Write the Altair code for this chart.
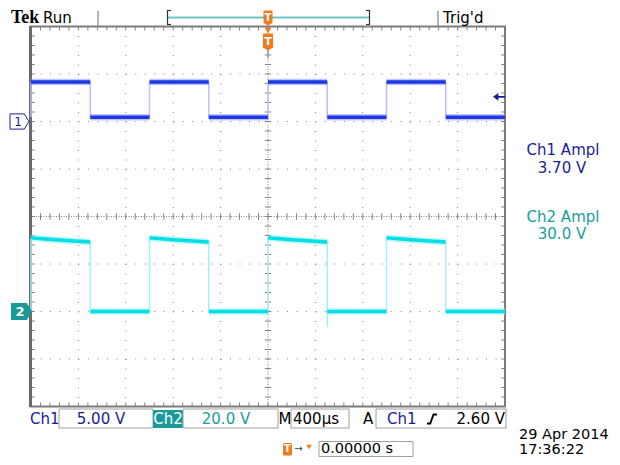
import altair as alt
import numpy as np
import pandas as pd

OFF = 8                      # page margin of the html page
FONT = "DejaVu Sans"

# ---------------- acquisition values ----------------
T_LEFT, T_RIGHT = -2000, 2000          # µs, 400 µs/div, 10 div
CH1_BOUNDS = [-2000, -1500, -1000, -500, 0, 500, 1000, 1500, 2000]   # µs
CH1_LEVEL_V = [4.15, 0.45, 4.15, 0.45, 4.15, 0.45, 4.15, 0.45]       # V per segment
CH2_HIGH_START = [-2000, -1000, 0, 1000]                              # µs
CH2_HIGH_DT = [0, 100, 200, 300, 400, 500]                            # µs into high phase
CH2_HIGH_V = [31.0, 30.6, 30.25, 29.9, 29.6, 29.3]                    # V (droop)
CH2_LOW_START = [-1500, -500, 500, 1500]
CH2_LOW_DT = [0, 500]
CH2_LOW_V = [0.0, 0.0, 0.0, 0.0]
CH2_SPIKE_T = [500]
CH2_SPIKE_V = [-6.5]
TRIG_LEVEL_V = [2.60]
TRIG_T = [0]

# ---------------- readout texts ----------------
TOP_TEXT = ["Tek", "Run", "Trig'd"]
MEAS_TEXT = ["Ch1 Ampl", "3.70 V", "Ch2 Ampl", "30.0 V"]
BOTTOM_TEXT = ["Ch1", "5.00 V", "Ch2", "20.0 V", "M", "400µs", "A", "Ch1", "2.60 V", "0.00000 s"]
DATE_TEXT = ["29 Apr 2014", "17:36:22"]

# ---------------- colours ----------------
BLUE_TXT = "#1c1c98"
TEAL_TXT = "#17a09c"
TEAL_BG = "#179a98"
ORANGE = "#f07a1e"
GRID = "#858585"
BORDER = "#7c7c7c"

# ---------------- scales (screen graticule) ----------------
X_L, X_R = 31 - OFF, 505 - OFF
Y_TOP, Y_BOT = 26.5 - OFF, 406.5 - OFF
XS = alt.Scale(domain=[T_LEFT, T_RIGHT], range=[X_L, X_R], nice=False, zero=False)
Y1 = alt.Scale(domain=[-30, 10], range=[Y_BOT, Y_TOP], nice=False, zero=False)    # 5 V/div, ground +2 div
Y2 = alt.Scale(domain=[-40, 120], range=[Y_BOT, Y_TOP], nice=False, zero=False)   # 20 V/div, ground -2 div
YD = alt.Scale(domain=[-4, 4], range=[Y_BOT, Y_TOP], nice=False, zero=False)      # divisions

ONE = alt.Data(values=[{"k": 1}])


def P(v):
    return v - OFF


def text(s, x, y, color="black", size=15, align="left", weight="normal", font=FONT):
    return alt.Chart(alt.Data(values=[{"s": s}])).mark_text(
        align=align, baseline="middle", font=font, fontSize=size,
        fontWeight=weight, color=color
    ).encode(x=alt.value(P(x)), y=alt.value(P(y)), text="s:N")


def rect(x1, y1, x2, y2, fill=None, stroke=None, sw=1, r=0):
    kw = {}
    if fill:
        kw["fill"] = fill
    else:
        kw["fill"] = "white"
        kw["fillOpacity"] = 0
    if stroke:
        kw["stroke"] = stroke
        kw["strokeWidth"] = sw
    if r:
        kw["cornerRadius"] = r
    return alt.Chart(ONE).mark_rect(**kw).encode(
        x=alt.value(P(x1)), x2=alt.value(P(x2)), y=alt.value(P(y1)), y2=alt.value(P(y2)))


def seg(x1, y1, x2, y2, color, sw=1):
    return alt.Chart(ONE).mark_rule(color=color, strokeWidth=sw).encode(
        x=alt.value(P(x1)), x2=alt.value(P(x2)), y=alt.value(P(y1)), y2=alt.value(P(y2)))


layers = []

# ---------------- graticule ----------------
vg = pd.DataFrame({"t": [t for t in range(-1600, 2000, 400) if t != 0]})
layers.append(alt.Chart(vg).mark_rule(color=GRID, strokeWidth=1, strokeDash=[1, 8.5]).encode(
    x=alt.X("t:Q", scale=XS, axis=None), y=alt.value(Y_TOP), y2=alt.value(Y_BOT)))
hg = pd.DataFrame({"d": [-3, -2, -1, 1, 2, 3]})
layers.append(alt.Chart(hg).mark_rule(color=GRID, strokeWidth=1, strokeDash=[1, 8.48]).encode(
    y=alt.Y("d:Q", scale=YD, axis=None), x=alt.value(X_L), x2=alt.value(X_R)))
# centre lines
layers.append(alt.Chart(pd.DataFrame({"t": [0]})).mark_rule(color=GRID, strokeDash=[1, 1.5]).encode(
    x=alt.X("t:Q", scale=XS, axis=None), y=alt.value(Y_TOP), y2=alt.value(Y_BOT)))
layers.append(alt.Chart(pd.DataFrame({"d": [0]})).mark_rule(color=GRID, strokeDash=[1, 1.5]).encode(
    y=alt.Y("d:Q", scale=YD, axis=None), x=alt.value(X_L), x2=alt.value(X_R)))
# minor ticks on centre lines and borders
tt = pd.DataFrame({"t": np.arange(T_LEFT, T_RIGHT + 1, 80), "a": -0.07, "b": 0.07})
layers.append(alt.Chart(tt).mark_rule(color=GRID).encode(
    x=alt.X("t:Q", scale=XS, axis=None), y=alt.Y("a:Q", scale=YD, axis=None), y2="b:Q"))
td = pd.DataFrame({"d": np.round(np.arange(-4, 4.01, 0.2), 2), "a": -27, "b": 27})
layers.append(alt.Chart(td).mark_rule(color=GRID).encode(
    y=alt.Y("d:Q", scale=YD, axis=None), x=alt.X("a:Q", scale=XS, axis=None), x2="b:Q"))
tb = pd.DataFrame({"t": np.arange(T_LEFT, T_RIGHT + 1, 80)})
layers.append(alt.Chart(tb).mark_rule(color=GRID).encode(
    x=alt.X("t:Q", scale=XS, axis=None), y=alt.value(Y_TOP), y2=alt.value(Y_TOP + 4)))
layers.append(alt.Chart(tb).mark_rule(color=GRID).encode(
    x=alt.X("t:Q", scale=XS, axis=None), y=alt.value(Y_BOT - 4), y2=alt.value(Y_BOT)))
tl = pd.DataFrame({"d": np.round(np.arange(-4, 4.01, 0.2), 2)})
layers.append(alt.Chart(tl).mark_rule(color=GRID).encode(
    y=alt.Y("d:Q", scale=YD, axis=None), x=alt.value(X_L), x2=alt.value(X_L + 4)))
layers.append(alt.Chart(tl).mark_rule(color=GRID).encode(
    y=alt.Y("d:Q", scale=YD, axis=None), x=alt.value(X_R - 4), x2=alt.value(X_R)))
# border
layers.append(rect(31, 26.5, 505, 406.5, stroke=BORDER, sw=2))
layers.append(seg(30.5, 26, 30.5, 407, "#6a6a6a", 3))

# ---------------- Ch1 trace ----------------
ch1 = pd.DataFrame({"t0": CH1_BOUNDS[:-1], "t1": CH1_BOUNDS[1:], "v": CH1_LEVEL_V})
ch1e = pd.DataFrame({"t": CH1_BOUNDS[:-1], "a": [CH1_LEVEL_V[1]] + CH1_LEVEL_V[:-1], "b": CH1_LEVEL_V})
layers.append(alt.Chart(ch1e).mark_rule(color="#b9c1f6", strokeWidth=1.5).encode(
    x=alt.X("t:Q", scale=XS, axis=None), y=alt.Y("a:Q", scale=Y1, axis=None), y2="b:Q"))
layers.append(alt.Chart(ch1).mark_rule(color="#8d99f2", strokeWidth=6.5, opacity=0.55, strokeCap="butt").encode(
    x=alt.X("t0:Q", scale=XS, axis=None), x2="t1:Q", y=alt.Y("v:Q", scale=Y1, axis=None)))
layers.append(alt.Chart(ch1).mark_rule(color="#1e36e4", strokeWidth=3.5, strokeCap="butt").encode(
    x=alt.X("t0:Q", scale=XS, axis=None), x2="t1:Q", y=alt.Y("v:Q", scale=Y1, axis=None)))

# ---------------- Ch2 trace ----------------
rows = []
for i, s in enumerate(CH2_HIGH_START):
    for dt, v in zip(CH2_HIGH_DT, CH2_HIGH_V):
        rows.append({"seg": f"h{i}", "t": s + dt, "v": v})
for i, s in enumerate(CH2_LOW_START):
    for dt in CH2_LOW_DT:
        rows.append({"seg": f"l{i}", "t": s + dt, "v": CH2_LOW_V[i]})
ch2 = pd.DataFrame(rows)
edges = []
for s in CH2_HIGH_START:
    edges.append({"t": s, "a": CH2_LOW_V[0], "b": CH2_HIGH_V[0]})
for i, s in enumerate(CH2_LOW_START):
    edges.append({"t": s, "a": CH2_HIGH_V[-1], "b": CH2_LOW_V[i]})
for t, v in zip(CH2_SPIKE_T, CH2_SPIKE_V):
    edges.append({"t": t, "a": 0.0, "b": v})
ch2e = pd.DataFrame(edges)
layers.append(alt.Chart(ch2e).mark_rule(color="#a6f1f6", strokeWidth=1.5).encode(
    x=alt.X("t:Q", scale=XS, axis=None), y=alt.Y("a:Q", scale=Y2, axis=None), y2="b:Q"))
layers.append(alt.Chart(ch2).mark_line(color="#93eef2", strokeWidth=6.5, opacity=0.6, strokeCap="butt").encode(
    x=alt.X("t:Q", scale=XS, axis=None), y=alt.Y("v:Q", scale=Y2, axis=None), detail="seg:N"))
layers.append(alt.Chart(ch2).mark_line(color="#00dfe6", strokeWidth=3.5, strokeCap="butt").encode(
    x=alt.X("t:Q", scale=XS, axis=None), y=alt.Y("v:Q", scale=Y2, axis=None), detail="seg:N"))

# ---------------- channel ground markers ----------------
gnd = pd.DataFrame({"v": [0.0], "lab1": ["1"], "lab2": ["2"]})
ARROW = "M-1,-0.8 L0.5,-0.8 L1,0 L0.5,0.8 L-1,0.8 Z"
layers.append(alt.Chart(gnd).mark_point(shape=ARROW, size=361, filled=True, fill="white",
                                        stroke=BLUE_TXT, strokeWidth=1, opacity=1).encode(
    x=alt.value(P(19.5)), y=alt.Y("v:Q", scale=Y1, axis=None)))
layers.append(alt.Chart(gnd).mark_text(font=FONT, fontSize=12, color=BLUE_TXT, baseline="middle").encode(
    x=alt.value(P(18)), y=alt.Y("v:Q", scale=Y1, axis=None), text="lab1:N"))
layers.append(alt.Chart(gnd).mark_point(shape=ARROW, size=361, filled=True, fill=TEAL_BG,
                                        stroke=TEAL_BG, opacity=1).encode(
    x=alt.value(P(21.5)), y=alt.Y("v:Q", scale=Y2, axis=None)))
layers.append(alt.Chart(gnd).mark_text(font=FONT, fontSize=13, fontWeight="bold", color="white",
                                       baseline="middle").encode(
    x=alt.value(P(20)), y=alt.Y("v:Q", scale=Y2, axis=None), text="lab2:N"))

# trigger level arrow (Ch1)
LARROW = "M-1,0 L-0.1,-0.65 L-0.1,-0.15 L1,-0.15 L1,0.15 L-0.1,0.15 L-0.1,0.65 Z"
layers.append(alt.Chart(pd.DataFrame({"v": TRIG_LEVEL_V})).mark_point(
    shape=LARROW, size=144, filled=True, color=BLUE_TXT, opacity=1).encode(
    x=alt.value(P(499)), y=alt.Y("v:Q", scale=Y1, axis=None)))

# trigger position markers
trig = pd.DataFrame({"t": TRIG_T, "s": ["T"]})
PIN = "M-0.6,-1 L0.6,-1 L0.6,0.65 L0,1 L-0.6,0.65 Z"
layers.append(alt.Chart(trig).mark_rule(color="#999999", strokeWidth=1.5).encode(
    x=alt.X("t:Q", scale=XS, axis=None), y=alt.value(P(48)), y2=alt.value(P(58))))
layers.append(alt.Chart(trig).mark_point(shape="triangle-down", size=45, filled=True, color=ORANGE, opacity=1).encode(
    x=alt.X("t:Q", scale=XS, axis=None), y=alt.value(P(30.5))))
layers.append(alt.Chart(trig).mark_point(shape=PIN, size=289, filled=True, color=ORANGE, opacity=1).encode(
    x=alt.X("t:Q", scale=XS, axis=None), y=alt.value(P(42))))
layers.append(alt.Chart(trig).mark_text(font=FONT, fontSize=11, fontWeight="bold", color="white", baseline="middle").encode(
    x=alt.X("t:Q", scale=XS, axis=None), y=alt.value(P(41.5)), text="s:N"))

# ---------------- top bar ----------------
layers.append(text(TOP_TEXT[0], 11, 18, size=18, weight="bold", font="Liberation Serif"))
layers.append(text(TOP_TEXT[1], 43, 18, size=15))
layers.append(seg(98, 11, 98, 26, "#9a9a9a", 1.5))
layers.append(seg(438, 11, 438, 26, "#9a9a9a", 1.5))
layers.append(text(TOP_TEXT[2], 443, 18, size=15))
layers.append(seg(168, 17.5, 369, 17.5, "#6cc6c6", 2))
layers.append(seg(167.5, 10, 167.5, 25, "#333333", 1.2))
layers.append(seg(167, 10.5, 171, 10.5, "#333333", 1.2))
layers.append(seg(167, 24.5, 171, 24.5, "#333333", 1.2))
layers.append(seg(369.5, 10, 369.5, 25, "#333333", 1.2))
layers.append(seg(366, 10.5, 370, 10.5, "#333333", 1.2))
layers.append(seg(366, 24.5, 370, 24.5, "#333333", 1.2))
layers.append(alt.Chart(trig).mark_point(shape=PIN, size=225, filled=True, color=ORANGE, opacity=1).encode(
    x=alt.X("t:Q", scale=XS, axis=None), y=alt.value(P(18))))
layers.append(alt.Chart(trig).mark_text(font=FONT, fontSize=10, fontWeight="bold", color="white", baseline="middle").encode(
    x=alt.X("t:Q", scale=XS, axis=None), y=alt.value(P(17.5)), text="s:N"))

# ---------------- measurements ----------------
layers.append(text(MEAS_TEXT[0], 563, 150, color=BLUE_TXT, align="center"))
layers.append(text(MEAS_TEXT[1], 562, 168, color=BLUE_TXT, align="center"))
layers.append(text(MEAS_TEXT[2], 563, 216.5, color=TEAL_TXT, align="center"))
layers.append(text(MEAS_TEXT[3], 562, 234, color=TEAL_TXT, align="center"))

# ---------------- bottom readout ----------------
BOXC = "#a0a0a0"
layers.append(rect(59, 409, 153, 428, fill="white", stroke=BOXC))
layers.append(rect(153, 410, 183, 428, fill=TEAL_BG))
layers.append(rect(183, 409, 278, 428, fill="white", stroke=BOXC))
layers.append(rect(291, 409, 349, 428, fill="white", stroke=BOXC))
layers.append(rect(376, 409, 506, 428, fill="white", stroke=BOXC))
layers.append(rect(319, 441.5, 413, 456.5, fill="white", stroke=BOXC))
layers.append(text(BOTTOM_TEXT[0], 30, 419, color=BLUE_TXT))
layers.append(text(BOTTOM_TEXT[1], 101, 419, color=BLUE_TXT, align="center"))
layers.append(text(BOTTOM_TEXT[2], 168, 419, color="white", align="center"))
layers.append(text(BOTTOM_TEXT[3], 226, 419, color=TEAL_TXT, align="center"))
layers.append(text(BOTTOM_TEXT[4], 285, 419, align="center"))
layers.append(text(BOTTOM_TEXT[5], 293, 419))
layers.append(text(BOTTOM_TEXT[6], 368, 419, align="center"))
layers.append(text(BOTTOM_TEXT[7], 387, 419, color=BLUE_TXT))
SLOPE = "M-1,0.9 L-0.35,0.9 L0.3,-0.9 L1,-0.9"
layers.append(alt.Chart(ONE).mark_point(shape=SLOPE, size=100, filled=False, stroke="black",
                                        strokeWidth=1.8, opacity=1).encode(
    x=alt.value(P(432)), y=alt.value(P(419))))
layers.append(text(BOTTOM_TEXT[8], 505, 419, align="right"))
# trigger offset icon + value
layers.append(rect(283, 443, 292, 455.5, fill=ORANGE, r=1.5))
layers.append(text("T", 287.5, 449, color="white", size=10, weight="bold", align="center"))
layers.append(text("→", 298.5, 448.5, size=10, align="center", color="#444444"))
layers.append(alt.Chart(ONE).mark_point(shape="triangle-down", size=30, filled=True, color=ORANGE, opacity=1).encode(
    x=alt.value(P(309)), y=alt.value(P(447))))
layers.append(text(BOTTOM_TEXT[9], 321, 449, size=14.5))
layers.append(text(DATE_TEXT[0], 519, 434.5, size=14.5))
layers.append(text(DATE_TEXT[1], 519, 449.5, size=14.5))

chart = alt.layer(*layers).resolve_scale(y="independent", x="shared").properties(
    width=604, height=449, padding=0,
    autosize=alt.AutoSizeParams(type="none"),
    background="white",
).configure_view(strokeWidth=0)

chart.save("out.html", embed_options={"renderer": "svg", "actions": False})
